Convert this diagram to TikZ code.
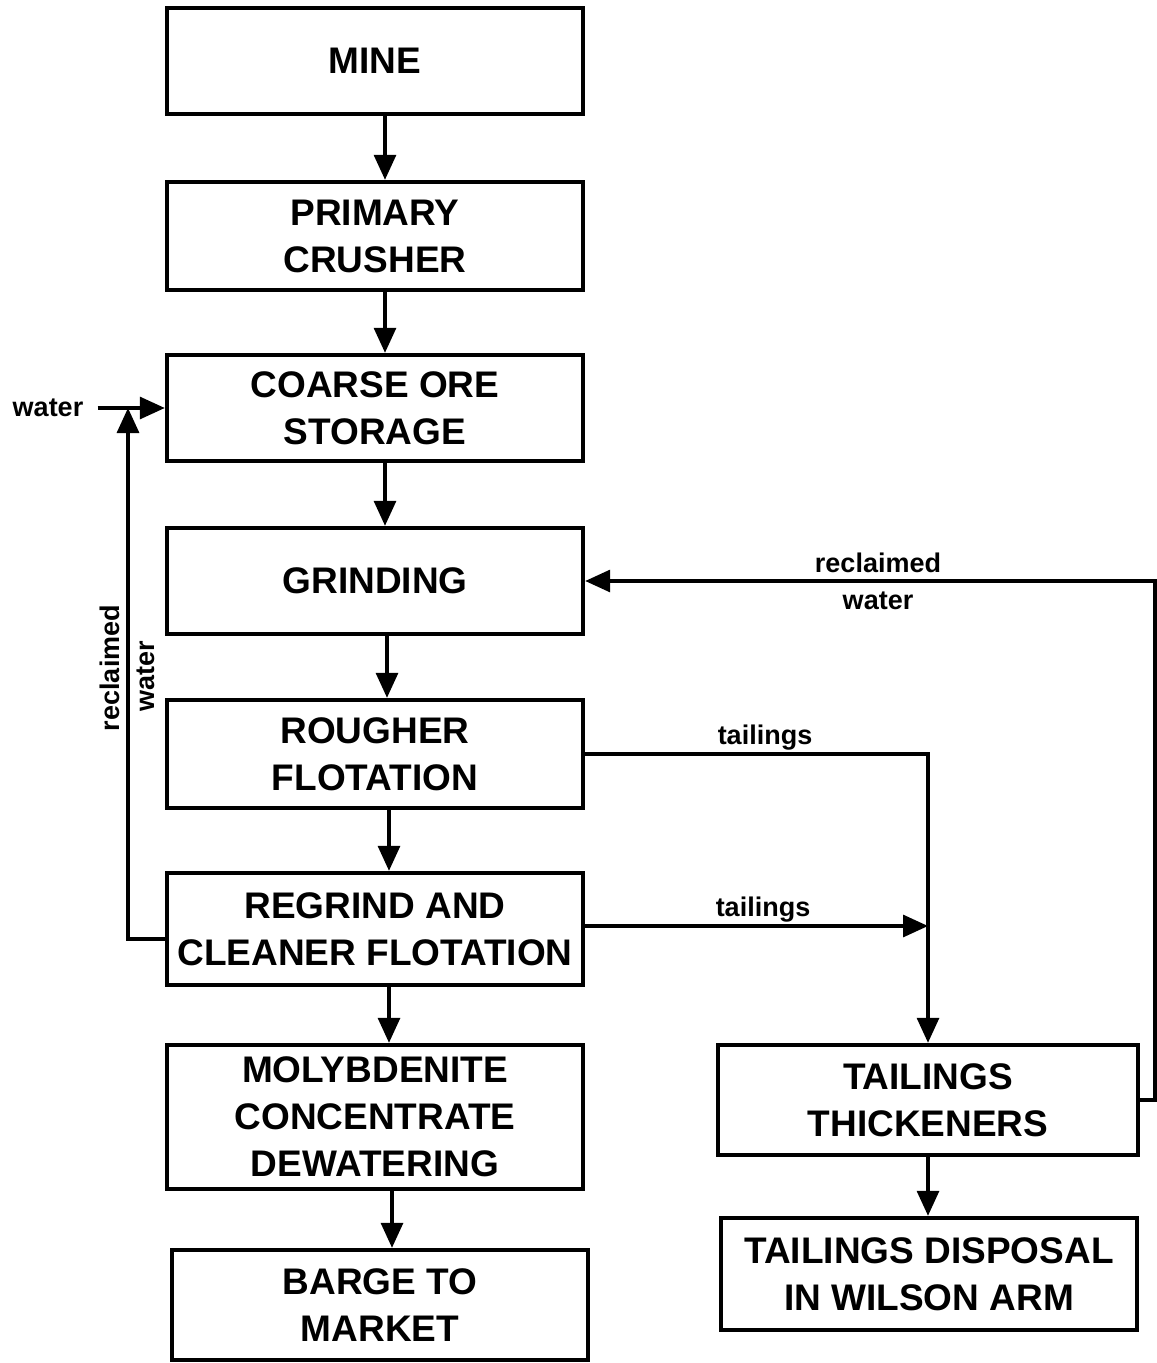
\documentclass[tikz,border=0pt]{standalone}
\usepackage{fontspec}
\setmainfont{Liberation Sans}
\usepackage{tikz}
\usetikzlibrary{arrows.meta, calc}

\tikzset{
  procbox/.style={draw, line width=2.2pt, minimum width=208pt, align=center, inner sep=2pt,
    font=\fontsize{18.5}{23.5}\selectfont\bfseries},
  flowarr/.style={line width=1.6pt, -{Triangle[length=12.5pt, width=11pt]}},
  lbl/.style={font=\fontsize{13.5}{15}\selectfont\bfseries, inner sep=1pt}
}

\begin{document}
\begin{tikzpicture}[x=0.5pt, y=-0.5pt]
  \useasboundingbox (0,0) rectangle (1156,1363);

  % main column
  \node[procbox, minimum height=53pt] (mine) at (375, 61) {MINE};
  \node[procbox, minimum height=54pt] (crusher) at (375, 236) {PRIMARY\\CRUSHER};
  \node[procbox, minimum height=53pt] (storage) at (375, 408) {COARSE ORE\\STORAGE};
  \node[procbox, minimum height=53pt] (grinding) at (375, 581) {GRINDING};
  \node[procbox, minimum height=54pt] (rougher) at (375, 754) {ROUGHER\\FLOTATION};
  \node[procbox, minimum height=56pt] (cleaner) at (375, 929) {REGRIND AND\\CLEANER FLOTATION};
  \node[procbox, minimum height=72pt] (dewater) at (375, 1117) {MOLYBDENITE\\CONCENTRATE\\DEWATERING};
  \node[procbox, minimum height=55pt] (barge) at (380, 1305) {BARGE TO\\MARKET};

  \draw[flowarr] ([xshift=5pt]mine.south) -- ([xshift=5pt]crusher.north);
  \draw[flowarr] ([xshift=5pt]crusher.south) -- ([xshift=5pt]storage.north);
  \draw[flowarr] ([xshift=5pt]storage.south) -- ([xshift=5pt]grinding.north);
  \draw[flowarr] ([xshift=6pt]grinding.south) -- ([xshift=6pt]rougher.north);
  \draw[flowarr] ([xshift=7pt]rougher.south) -- ([xshift=7pt]cleaner.north);
  \draw[flowarr] ([xshift=7pt]cleaner.south) -- ([xshift=7pt]dewater.north);
  \draw[flowarr] ([xshift=6pt]dewater.south -| barge) -- ([xshift=6pt]barge.north);

  % tailings column
  \node[procbox, minimum width=210pt, minimum height=55pt] (thick) at (928, 1100) {TAILINGS\\THICKENERS};
  \node[procbox, minimum height=56pt] (disposal) at (929, 1274) {TAILINGS DISPOSAL\\IN WILSON ARM};
  \draw[flowarr] (thick) -- (thick |- disposal.north);

  % water in
  \node[lbl] (water) at (48, 408) {water};
  \draw[flowarr] ([xshift=6pt]water.east) -- (storage.west);

  % reclaimed water, left loop
  \coordinate (wjoin) at (128, 408);
  \draw[flowarr] ([yshift=-5pt]cleaner.west) -| (wjoin);
  \node[lbl, rotate=90] (recl) at (110, 668) {reclaimed};
  \node[lbl, rotate=90] (reclw) at (146, 676) {water};

  % tailings lines
  \draw[flowarr] (rougher.east) -| (thick.north);
  \node[lbl] (tail1) at (765, 738) {tailings};
  \coordinate (tjoin) at (thick.north |- 0, 926);
  \draw[flowarr] (cleaner.east |- tjoin) -- (tjoin);
  \node[lbl] (tail2) at (763, 910) {tailings};

  % reclaimed water, right loop
  \coordinate (rcorner) at (1155, 1100);
  \draw[flowarr] (thick.east) -- (rcorner) |- (grinding.east);
  \node[lbl] (recr) at (878, 563) {reclaimed};
  \node[lbl] (recrw) at (878, 601) {water};
\end{tikzpicture}
\end{document}
